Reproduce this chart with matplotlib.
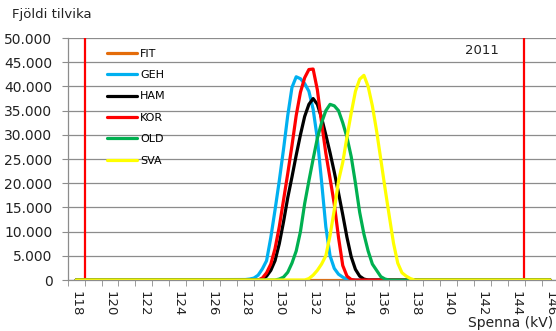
import matplotlib
matplotlib.use("Agg")
import matplotlib.pyplot as plt
import numpy as np
from matplotlib.ticker import FuncFormatter, MultipleLocator

# voltage grid (kV) where the curves are non-zero, 0.25 kV steps
kv_core = np.arange(128.0, 138.001, 0.25)
kv_start, kv_end = 118.0, 146.0

# counts in thousands
fit = [0.0] * 41
geh = [0.1, 0.2, 0.4, 1.0, 2.3, 4.0, 8.8, 14.5, 20.5, 27.0, 34.0, 39.8, 42.0,
       41.6, 40.6, 39.0, 35.3, 29.2, 20.3, 11.0, 5.0, 2.4, 1.2, 0.6, 0.1] + [0.0] * 16
ham = [0.0] * 4 + [0.2, 0.8, 2.0, 4.0, 7.5, 12.0, 17.0, 21.3, 25.8, 30.0, 33.8,
                   36.3, 37.5, 36.3, 33.5, 30.0, 26.3, 22.3, 18.0, 13.5, 8.8,
                   4.8, 2.2, 0.8, 0.2] + [0.0] * 12
kor = [0.0] * 4 + [0.4, 1.5, 3.3, 6.5, 11.0, 16.5, 22.0, 27.8, 34.0, 38.8, 41.8,
                   43.5, 43.6, 39.3, 32.5, 26.2, 21.0, 15.7, 8.8, 3.0, 0.8,
                   0.1] + [0.0] * 15
old = [0.0] * 8 + [0.2, 0.6, 1.6, 3.5, 6.0, 10.0, 15.8, 20.5, 25.0, 29.3, 32.5,
                   35.0, 36.3, 36.0, 35.0, 32.5, 29.5, 25.5, 20.0, 14.0, 9.5,
                   6.0, 3.3, 2.0, 0.7, 0.2] + [0.0] * 7
sva = [0.0] * 15 + [0.3, 1.0, 2.0, 3.3, 5.0, 9.2, 14.5, 20.5, 24.3, 29.6, 34.5,
                    39.0, 41.5, 42.3, 40.0, 36.0, 30.8, 24.9, 18.9, 13.2, 7.6,
                    3.5, 1.5, 0.8, 0.3, 0.0]

series = ["FIT", "GEH", "HAM", "KOR", "OLD", "SVA"]
values = [fit, geh, ham, kor, old, sva]
colors = ["#E46C0A", "#00B0F0", "#000000", "#FF0000", "#00B050", "#FFFF00"]

limits = [118.5, 144.45]  # red vertical lines
year_label = "2011"

fig = plt.figure(figsize=(5.56, 3.31), dpi=100)
ax = fig.add_axes([0.1218, 0.154, 0.8782, 0.731])

x = np.concatenate([[kv_start], kv_core, [kv_end]])
for name, vals, col in zip(series, values, colors):
    y = np.concatenate([[0.0], np.array(vals) * 1000, [0.0]])
    ax.plot(x, y, color=col, lw=2.3, label=name, solid_capstyle="round")

for lim in limits:
    ax.axvline(lim, color="#FF0000", lw=1.6, zorder=1)

ax.set_xlim(117.5, 146.35)
ax.set_ylim(0, 50000)
ax.yaxis.set_major_locator(MultipleLocator(5000))
ax.yaxis.set_major_formatter(
    FuncFormatter(lambda v, _: f"{int(v):,}".replace(",", ".")))
ax.grid(axis="y", color="#8C8C8C", lw=0.9)
ax.set_axisbelow(True)

ax.xaxis.set_major_locator(MultipleLocator(2))
ax.xaxis.set_minor_locator(MultipleLocator(1, offset=0.5))
ax.tick_params(axis="x", which="major", length=0, pad=8, labelsize=9.5,
               labelrotation=-90, colors="#222222")
ax.tick_params(axis="x", which="minor", length=4, color="#8C8C8C")
ax.tick_params(axis="y", length=4, color="#8C8C8C", labelsize=10,
               colors="#222222", pad=7)
for side in ["top", "right"]:
    ax.spines[side].set_visible(False)
for side in ["left", "bottom"]:
    ax.spines[side].set_color("#8C8C8C")
    ax.spines[side].set_linewidth(0.9)

ax.legend(loc="upper left", bbox_to_anchor=(0.072, 0.975), frameon=False,
          fontsize=8, handlelength=2.7, labelspacing=1.03, handletextpad=0.25,
          borderaxespad=0)

ax.text(0.848, 0.95, year_label, transform=ax.transAxes, ha="center",
        va="center", fontsize=9.5, color="#222222")
fig.text(0.022, 0.955, "Fjöldi tilvika", ha="left", va="center", fontsize=9.5,
         color="#222222")
fig.text(0.995, 0.025, "Spenna (kV)", ha="right", va="center", fontsize=10,
         color="#222222")

fig.savefig("out.png", dpi=100)
